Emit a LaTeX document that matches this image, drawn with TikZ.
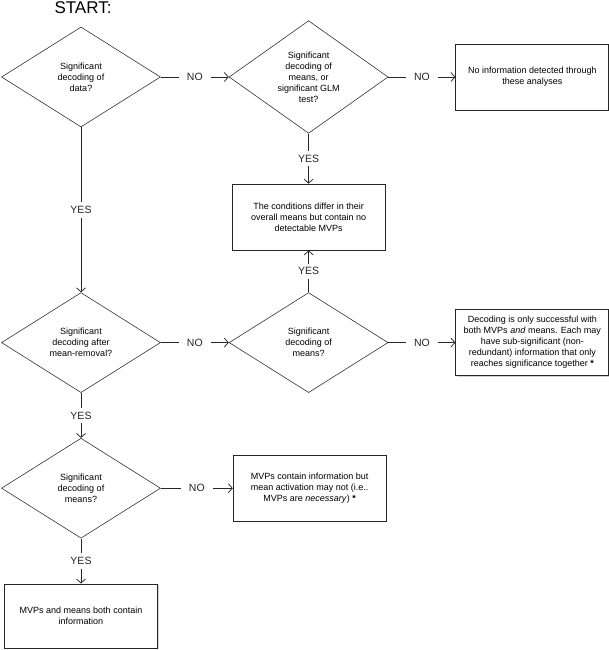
\documentclass[tikz,border=0pt]{standalone}
\usepackage{fontspec}
\setmainfont{Liberation Sans}
\usetikzlibrary{positioning, shapes.geometric, arrows.meta, shadows}

\begin{document}
\begin{tikzpicture}[
x=1pt, y=1pt,
question/.style={diamond,
  draw=black!80,
  line width=0.6pt,
  minimum width=159pt,
  minimum height=100pt,
  inner sep=0pt,
  align=center,
  font=\fontsize{9}{11}\selectfont
},
outcome/.style={rectangle,
  draw=black!85,
  line width=0.8pt,
  minimum width=153pt,
  minimum height=66pt,
  align=center,
  fill=white,
  drop shadow={shadow xshift=1pt, shadow yshift=-1pt, fill=black!35},
  font=\fontsize{9}{11}\selectfont
},
answer/.style={fill=white,
  inner xsep=8pt,
  inner ysep=4pt,
  font=\fontsize{10.5}{12}\selectfont
},
link/.style={->, line width=0.75pt, black!85},
>={Straight Barb[length=4pt,width=9pt]}
]

\useasboundingbox (0,0) rectangle (609,-650);

\node[font=\fontsize{17}{20}\selectfont] (start) at (83,-8)
    {START:};

\node[question] (data) at (81,-77)
    {Significant\\decoding of\\data?};
\node[question, right= 68pt of data] (glm)
    {Significant\\decoding of\\means, or\\significant GLM\\test?};
\node[outcome, right= 67pt of glm] (noinfo)
    {No information detected through\\these analyses};
\node[outcome, below= 50pt of glm] (overall)
    {The conditions differ in their\\overall means but contain no\\detectable MVPs};
\node[question, below= 165pt of data] (removal)
    {Significant\\decoding after\\mean-removal?};
\node[question, right= 68pt of removal] (means)
    {Significant\\decoding of\\means?};
\node[outcome, right= 67pt of means] (together)
    {Decoding is only successful with\\both MVPs \emph{and} means. Each may\\have sub-significant (non-\\redundant) information that only\\reaches significance together \textbf{*}};
\node[question, below= 45pt of removal] (meansb)
    {Significant\\decoding of\\means?};
\node[outcome, right= 72pt of meansb] (necessary)
    {MVPs contain information but\\mean activation may not (i.e..\\MVPs are \emph{necessary}) \textbf{*}};
\node[outcome, below= 45pt of meansb, minimum height=64pt] (both)
    {MVPs and means both contain\\information};

\draw[link] (data) -- node[answer] (no1) {NO} (glm);
\draw[link] (glm) -- node[answer] (no2) {NO} (noinfo);
\draw[link] (glm) -- node[answer] (yes1) {YES} (overall);
\draw[link] (data) -- node[answer] (yes2) {YES} (removal);
\draw[link] (removal) -- node[answer] (no3) {NO} (means);
\draw[link] (means) -- node[answer] (yes3) {YES} (overall);
\draw[link] (means) -- node[answer] (no4) {NO} (together);
\draw[link] (removal) -- node[answer] (yes4) {YES} (meansb);
\draw[link] (meansb) -- node[answer] (no5) {NO} (necessary);
\draw[link] (meansb) -- node[answer] (yes5) {YES} (both);
\end{tikzpicture}
\end{document}
